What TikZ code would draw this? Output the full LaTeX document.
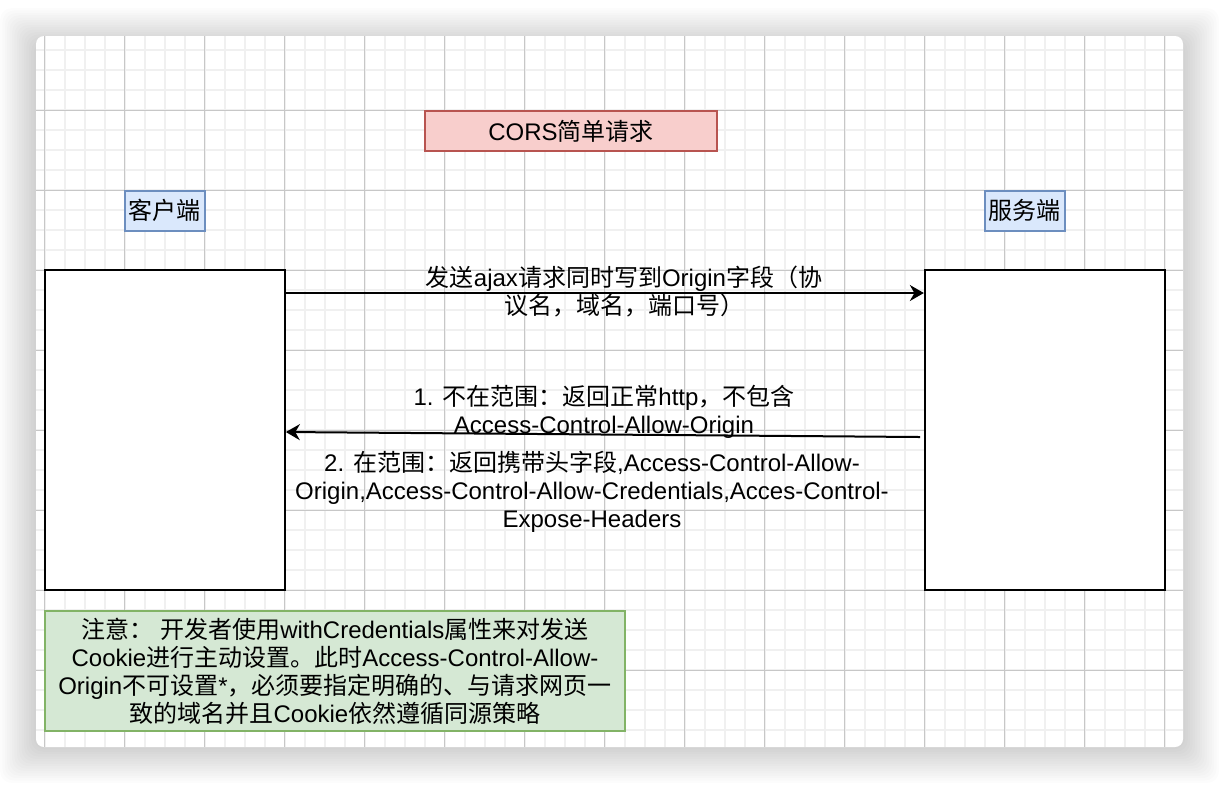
\documentclass[tikz,border=0pt]{standalone}
\usepackage{fontspec}
\setmainfont{Liberation Sans}
\newfontfamily\latinfont{Liberation Sans}
\newfontfamily\cjkfont{Noto Sans CJK SC}
\usetikzlibrary{arrows.meta}
% Chinese characters are set in the CJK font:
\XeTeXinterchartokenstate=1
\newXeTeXintercharclass\cjkclass
\newcount\cjkcnt
\cjkcnt="3000
\loop\XeTeXcharclass\cjkcnt=\cjkclass
\ifnum\cjkcnt<"303F\advance\cjkcnt by 1\repeat
\cjkcnt="4E00
\loop\XeTeXcharclass\cjkcnt=\cjkclass
\ifnum\cjkcnt<"9FFF\advance\cjkcnt by 1\repeat
\cjkcnt="FF00
\loop\XeTeXcharclass\cjkcnt=\cjkclass
\ifnum\cjkcnt<"FFEF\advance\cjkcnt by 1\repeat
\XeTeXinterchartoks 0 \cjkclass={\cjkfont}
\XeTeXinterchartoks 4095 \cjkclass={\cjkfont}
\XeTeXinterchartoks \cjkclass 0={\latinfont}
\XeTeXinterchartoks \cjkclass 4095={\latinfont}
\definecolor{tagfill}{HTML}{DAE8FC}
\definecolor{tagline}{HTML}{6C8EBF}
\definecolor{titlefill}{HTML}{F8CECC}
\definecolor{titleline}{HTML}{B85450}
\definecolor{notefill}{HTML}{D5E8D4}
\definecolor{noteline}{HTML}{82B366}
\tikzset{
  gridminor/.style={line width=1pt,black!6},
  gridmajor/.style={line width=0.5pt,black!22},
  bigbox/.style={draw=black,fill=white,line width=1pt,minimum width=120pt,minimum height=160pt},
  tagbox/.style={draw=tagline,fill=tagfill,line width=1pt,minimum width=40pt,minimum height=20pt,inner sep=0pt},
  titlebox/.style={draw=titleline,fill=titlefill,line width=1pt,minimum width=146pt,minimum height=20pt},
  notebox/.style={draw=noteline,fill=notefill,line width=1pt,minimum width=290pt,minimum height=60pt,align=center},
  lbl/.style={align=center,inner sep=0pt},
  conn/.style={line width=1pt,-{Stealth[length=7pt,width=8pt]}}
}
\begin{document}
\begin{tikzpicture}[x=0.5pt,y=-0.5pt,font=\fontsize{12pt}{14pt}\selectfont]
\useasboundingbox (0,0) rectangle (1220,784);
% window shadow:
\foreach \s in {1,...,15}
  \fill[black,opacity=0.011,rounded corners=6pt] ({36-2.4*\s},{44-2.4*\s}) rectangle ({1183+2.4*\s},{747+2.4*\s});
% window and grid:
\fill[white,rounded corners=4pt] (36,36) rectangle (1183,747);
\begin{scope}
\clip[rounded corners=4pt] (36,36) rectangle (1183,747);
\foreach \x in {44.7,64.7,...,1184.7} \draw[gridminor] (\x,36) -- (\x,747);
\foreach \y in {50,70,...,750} \draw[gridminor] (36,\y) -- (1183,\y);
\foreach \x in {44.7,124.7,...,1184.7} \draw[gridmajor] (\x,36) -- (\x,747);
\foreach \y in {110,190,...,750} \draw[gridmajor] (36,\y) -- (1183,\y);
\end{scope}
% boxes:
\node[titlebox] (title) at (571,131) {CORS简单请求};
\node[tagbox] (clienttag) at (164.85,210.5) {客户端};
\node[tagbox] (servertag) at (1024.85,210.5) {服务端};
\node[bigbox] (client) at (164.85,430) {};
\node[bigbox] (server) at (1044.85,430) {};
\node[notebox] (note) at (335,671) {注意： 开发者使用withCredentials属性来对发送\\Cookie进行主动设置。此时Access-Control-Allow-\\Origin不可设置*，必须要指定明确的、与请求网页一\\致的域名并且Cookie依然遵循同源策略};
% request and response:
\draw[conn] ([yshift=-12pt]client.north east) -- ([yshift=-12pt]server.north west);
\coordinate (retstart) at (920,437);
\draw[conn] (retstart) -- ([yshift=-1pt]client.east);
\node[lbl] (reqlbl) at (624,291) {发送ajax请求同时写到Origin字段（协\\议名，域名，端口号）};
\node[lbl] (outlbl) at (604,411.5) {1. 不在范围：返回正常http，不包含\\Access-Control-Allow-Origin};
\node[lbl] (inlbl) at (592,492) {2. 在范围：返回携带头字段,Access-Control-Allow-\\Origin,Access-Control-Allow-Credentials,Acces-Control-\\Expose-Headers};
\end{tikzpicture}
\end{document}
